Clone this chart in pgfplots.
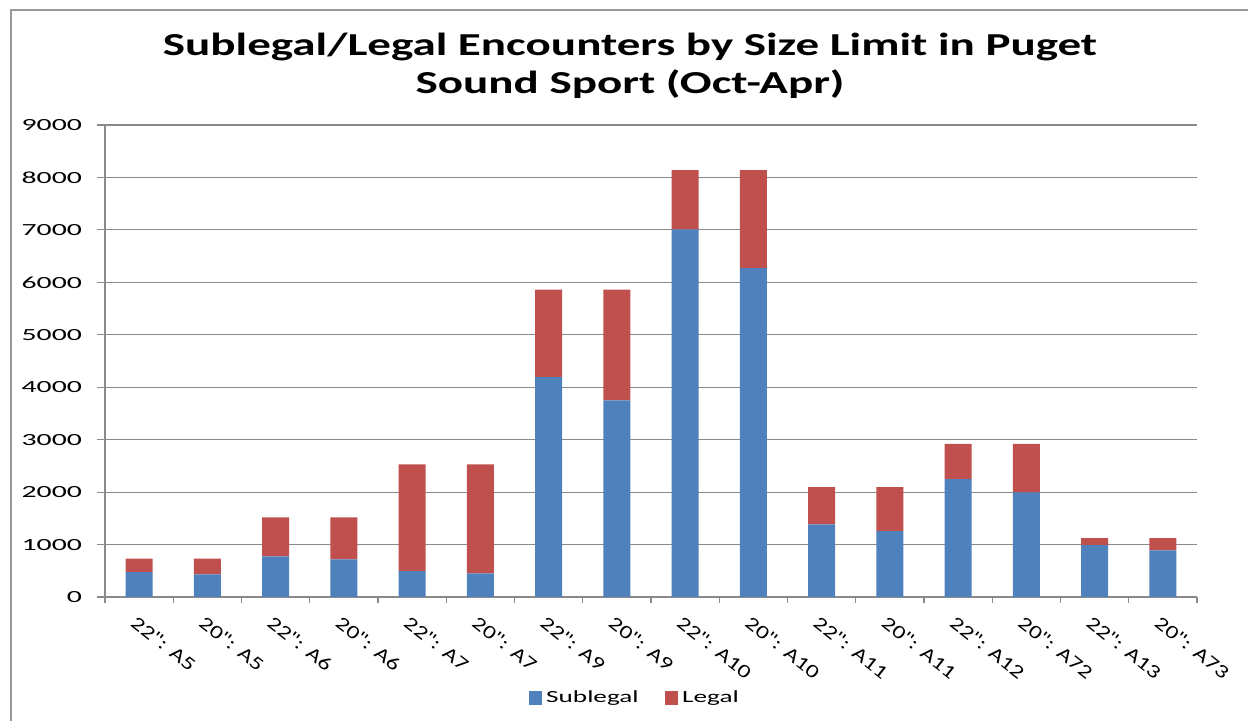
\documentclass[border=0pt]{standalone}
\usepackage{fontspec}
\setmainfont{Carlito}[FakeStretch=1.6]
\newfontfamily\titlefont{Carlito}[FakeStretch=1.47]
\newfontfamily\yfont{Carlito}[FakeStretch=1.75]
\newfontfamily\xfont{Carlito}[FakeStretch=1.3]
\usepackage{pgfplots}
\pgfplotsset{compat=1.18}
\definecolor{subc}{HTML}{4F81BD}
\definecolor{legc}{HTML}{C0504D}
\definecolor{gridc}{HTML}{8A8A8A}
\pgfplotstableread{
x sub leg
0 476 254
1 432 298
2 775 742
3 717 800
4 495 2032
5 451 2076
6 4190 1671
7 3747 2114
8 7010 1129
9 6272 1867
10 1384 711
11 1257 838
12 2248 673
13 1994 927
14 990 134
15 889 235
}\datatable
\begin{document}
\begin{tikzpicture}[x=1pt,y=1pt]
\useasboundingbox (0,0) rectangle (624,360.5);
\draw[color=black!40, line width=1pt] (5.5,-5) -- (5.5,355.5) -- (630,355.5);
\node[font=\titlefont\fontsize{16}{19}\selectfont\bfseries, align=center] at (315,327.5) {Sublegal/Legal Encounters by Size Limit in Puget\\Sound Sport (Oct-Apr)};
\begin{axis}[
  at={(52.5pt,62pt)}, anchor=south west,
  scale only axis, width=546pt, height=236pt,
  ybar stacked, bar width=13.5pt,
  xmin=-0.5, xmax=15.5, ymin=0, ymax=9000,
  ytick={0,1000,...,9000},
  xtick={0,...,15},
  xticklabels={{22": A5},{20": A5},{22": A6},{20": A6},{22": A7},{20": A7},{22": A9},{20": A9},{22": A10},{20": A10},{22": A11},{20": A11},{22": A12},{20": A72},{22": A13},{20": A73}},
  minor xtick={-0.5,0.5,...,15.5},
  major x tick style={draw=none},
  minor x tick style={gridc, line width=0.6pt},
  y tick style={gridc, line width=0.6pt},
  tick align=outside,
  major tick length=4pt, minor tick length=3pt,
  ymajorgrids, grid style={gridc, line width=0.6pt},
  axis x line*=bottom, axis y line*=left,
  axis line style={gridc, line width=0.6pt},
  /pgf/number format/assume math mode=true,
  /pgf/number format/1000 sep={},
  yticklabel style={font=\yfont\fontsize{8.5}{10}\selectfont, xshift=-4pt},
  xticklabel style={font=\xfont\fontsize{9.5}{11}\selectfont, rotate=-38, anchor=north west, xshift=-1pt, yshift=-1pt},
  legend style={draw=none, at={(0.486,-0.214)}, anchor=center, legend columns=2, font=\fontsize{8.5}{10}\selectfont, /tikz/every even column/.append style={column sep=11pt}},
  legend image code/.code={\fill[#1] (0pt,-3.4pt) rectangle (6.8pt,3.4pt);},
]
\addplot[fill=subc, draw=none] table[x=x, y=sub] {\datatable};
\addplot[fill=legc, draw=none] table[x=x, y=leg] {\datatable};
\legend{Sublegal, Legal}
\end{axis}
\end{tikzpicture}
\end{document}
